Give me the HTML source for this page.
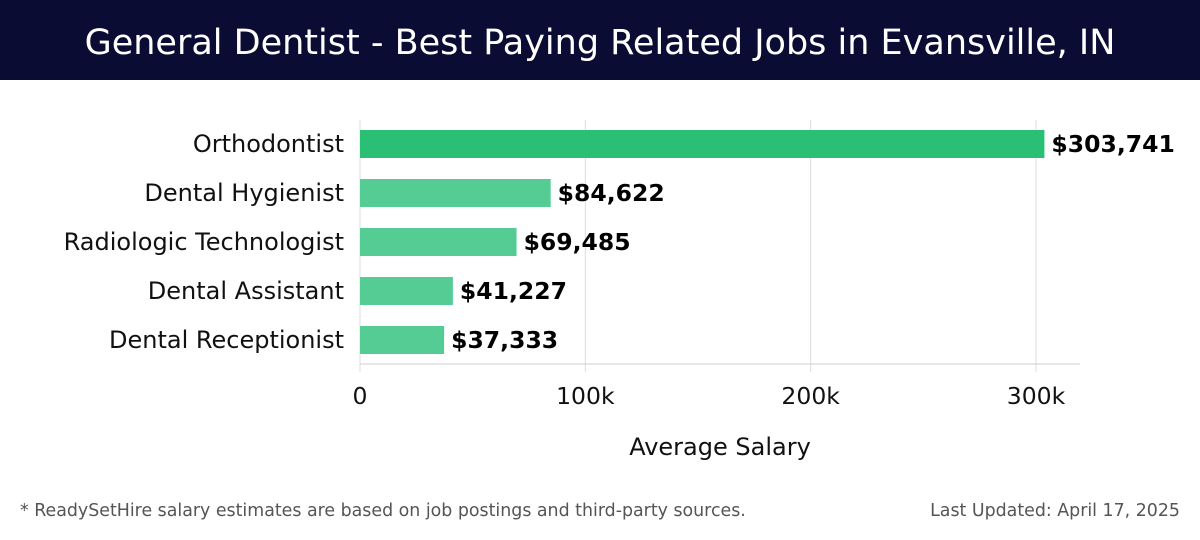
<!DOCTYPE html>
<html><head><meta charset="utf-8"><style>
body{margin:0;width:1200px;height:540px;background:#fff;font-family:"DejaVu Sans","Liberation Sans",sans-serif;overflow:hidden;position:relative}
#hdr{position:absolute;left:0;top:0;width:1200px;height:80px;background:#0b0c33;color:#fff;font-size:35px;text-align:center;line-height:86px;font-family:"DejaVu Sans ExtraLight","DejaVu Sans",sans-serif;white-space:nowrap}
.ft{position:absolute;top:501px;font-size:17.4px;color:#555;white-space:nowrap}
</style></head><body>
<div id="hdr">General Dentist - Best Paying Related Jobs in Evansville, IN</div>
<svg id="c" width="1200" height="460" style="position:absolute;left:0;top:80px"></svg>
<div class="ft" style="left:20px">* ReadySetHire salary estimates are based on job postings and third-party sources.</div>
<div class="ft" style="right:20px">Last Updated: April 17, 2025</div>
<script>
const categories=["Orthodontist","Dental Hygienist","Radiologic Technologist","Dental Assistant","Dental Receptionist"];
const values=[303741,84622,69485,41227,37333];
const ticks=[0,100000,200000,300000];
const tickLabels=["0","100k","200k","300k"];
const svg=document.getElementById('c');const NS='http://www.w3.org/2000/svg';
const x=v=>360+v*(676/300000);const y=i=>64+i*49;
function mk(t,a,txt){const e=document.createElementNS(NS,t);for(const k in a)e.setAttribute(k,a[k]);if(txt!=null)e.textContent=txt;svg.appendChild(e);return e;}
ticks.forEach((t,i)=>{
const g=mk('line',{x1:x(t),x2:x(t),y1:40,y2:292,stroke:'#ddd'});


const l=mk('text',{x:x(t),y:324,'text-anchor':'middle','font-size':23.5,fill:'#111'},tickLabels[i]);


});
const ax=mk('line',{x1:360,x2:1080,y1:284,y2:284,stroke:'#ccc'});


categories.forEach((c,i)=>{
const b=mk('rect',{x:360,y:y(i)-14,width:x(values[i])-360,height:28,fill:i==0?'#2bbf76':'#56cc95'});


const l=mk('text',{x:344,y:y(i)+8,'text-anchor':'end','font-size':24,fill:'#111'},c);


const v=mk('text',{x:x(values[i])+7,y:y(i)+8,'font-size':23.5,'font-weight':'bold',fill:'#000'},'$'+values[i].toLocaleString('en-US'));


});
const t=mk('text',{x:720,y:375,'text-anchor':'middle','font-size':24,fill:'#111'},'Average Salary');


</script>
</body></html>
